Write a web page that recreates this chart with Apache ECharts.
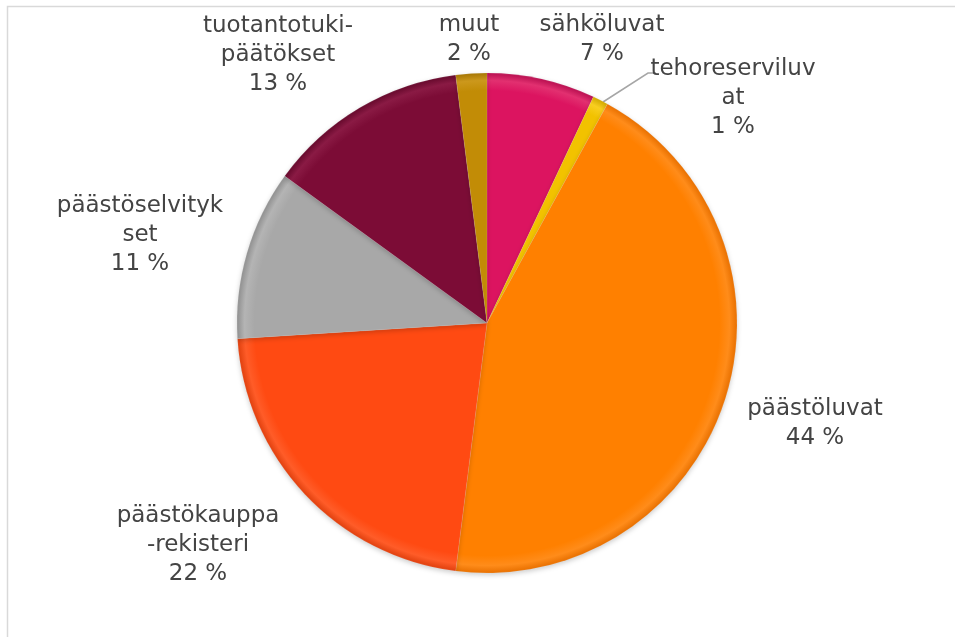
<!DOCTYPE html>
<html>
<head>
    <meta charset="utf-8">
    <title>Pie</title>
    <script src="https://cdn.jsdelivr.net/npm/echarts@6/dist/echarts.min.js"></script>
    <style>
        * { margin: 0; padding: 0; }
        body { background: #fff; }
    </style>
</head>
<body>
    <div id="main" style="width:955px;height:637px;"></div>
    <script type="text/javascript">
        // data
        var names = ['sähköluvat', 'tehoreserviluvat', 'päästöluvat', 'päästökauppa-rekisteri',
            'päästöselvitykset', 'tuotantotukipäätökset', 'muut'];
        var labelText = ['sähköluvat', 'tehoreserviluv\nat', 'päästöluvat', 'päästökauppa\n-rekisteri',
            'päästöselvityk\nset', 'tuotantotuki-\npäätökset', 'muut'];
        var values = [7, 1, 44, 22, 11, 13, 2];

        // styling
        var baseColors = ['#DC1460', '#F2C200', '#FF8000', '#FF4A12', '#A8A8A8', '#7C0C36', '#C28C06'];
        var edgeColors = ['#B80F50', '#D2A800', '#E87000', '#E0400E', '#909090', '#66092C', '#A67604'];
        var lightColors = ['#E23070', '#F8CE20', '#FF8C1A', '#FF5C28', '#B4B4B4', '#8A1A44', '#CC981C'];
        var labelAt = [[602, 40], [733, 98], [815, 424], [198, 545], [140, 235], [278, 55], [469, 40]];
        var cx = 487, cy = 323, R = 250;

        var myChart = echarts.init(document.getElementById('main'));

        var data = values.map(function (v, i) {
            return {
                name: names[i],
                value: v,
                labelLine: { show: i === 1 },
                itemStyle: {
                    color: {
                        type: 'radial', x: cx, y: cy, r: R, global: true,
                        colorStops: [
                            { offset: 0, color: baseColors[i] },
                            { offset: 0.93, color: baseColors[i] },
                            { offset: 0.97, color: lightColors[i] },
                            { offset: 1, color: edgeColors[i] }
                        ]
                    }
                }
            };
        });

        var option = {
            backgroundColor: '#fff',
            animation: false,
            graphic: [{
                type: 'rect',
                shape: { x: 7.5, y: 6.5, width: 1200, height: 1200 },
                style: { fill: 'none', stroke: '#D9D9D9', lineWidth: 1.5 },
                silent: true
            }],
            series: [{
                type: 'pie',
                center: [cx, cy],
                radius: R,
                startAngle: 90,
                clockwise: true,
                avoidLabelOverlap: false,
                itemStyle: {
                    borderColor: 'rgba(255,255,255,0.2)',
                    borderWidth: 0.5,
                    shadowBlur: 5,
                    shadowColor: 'rgba(0,0,0,0.2)',
                    shadowOffsetY: 2
                },
                label: {
                    show: true,
                    position: 'outside',
                    formatter: function (p) {
                        return labelText[p.dataIndex] + '\n' + p.value + ' %';
                    },
                    fontFamily: 'DejaVu Sans',
                    fontSize: 23,
                    lineHeight: 29,
                    color: '#444444',
                    align: 'center'
                },
                labelLine: {
                    show: false,
                    lineStyle: { color: '#A6A6A6', width: 1.5 }
                },
                labelLayout: function (params) {
                    var i = params.dataIndex;
                    var out = {
                        x: labelAt[i][0],
                        y: labelAt[i][1],
                        align: 'center',
                        verticalAlign: 'middle'
                    };
                    if (i === 1) {
                        out.labelLinePoints = [[603, 102], [648, 73], [656, 73]];
                    }
                    return out;
                },
                data: data
            }]
        };

        myChart.setOption(option);
    </script>
</body>
</html>
